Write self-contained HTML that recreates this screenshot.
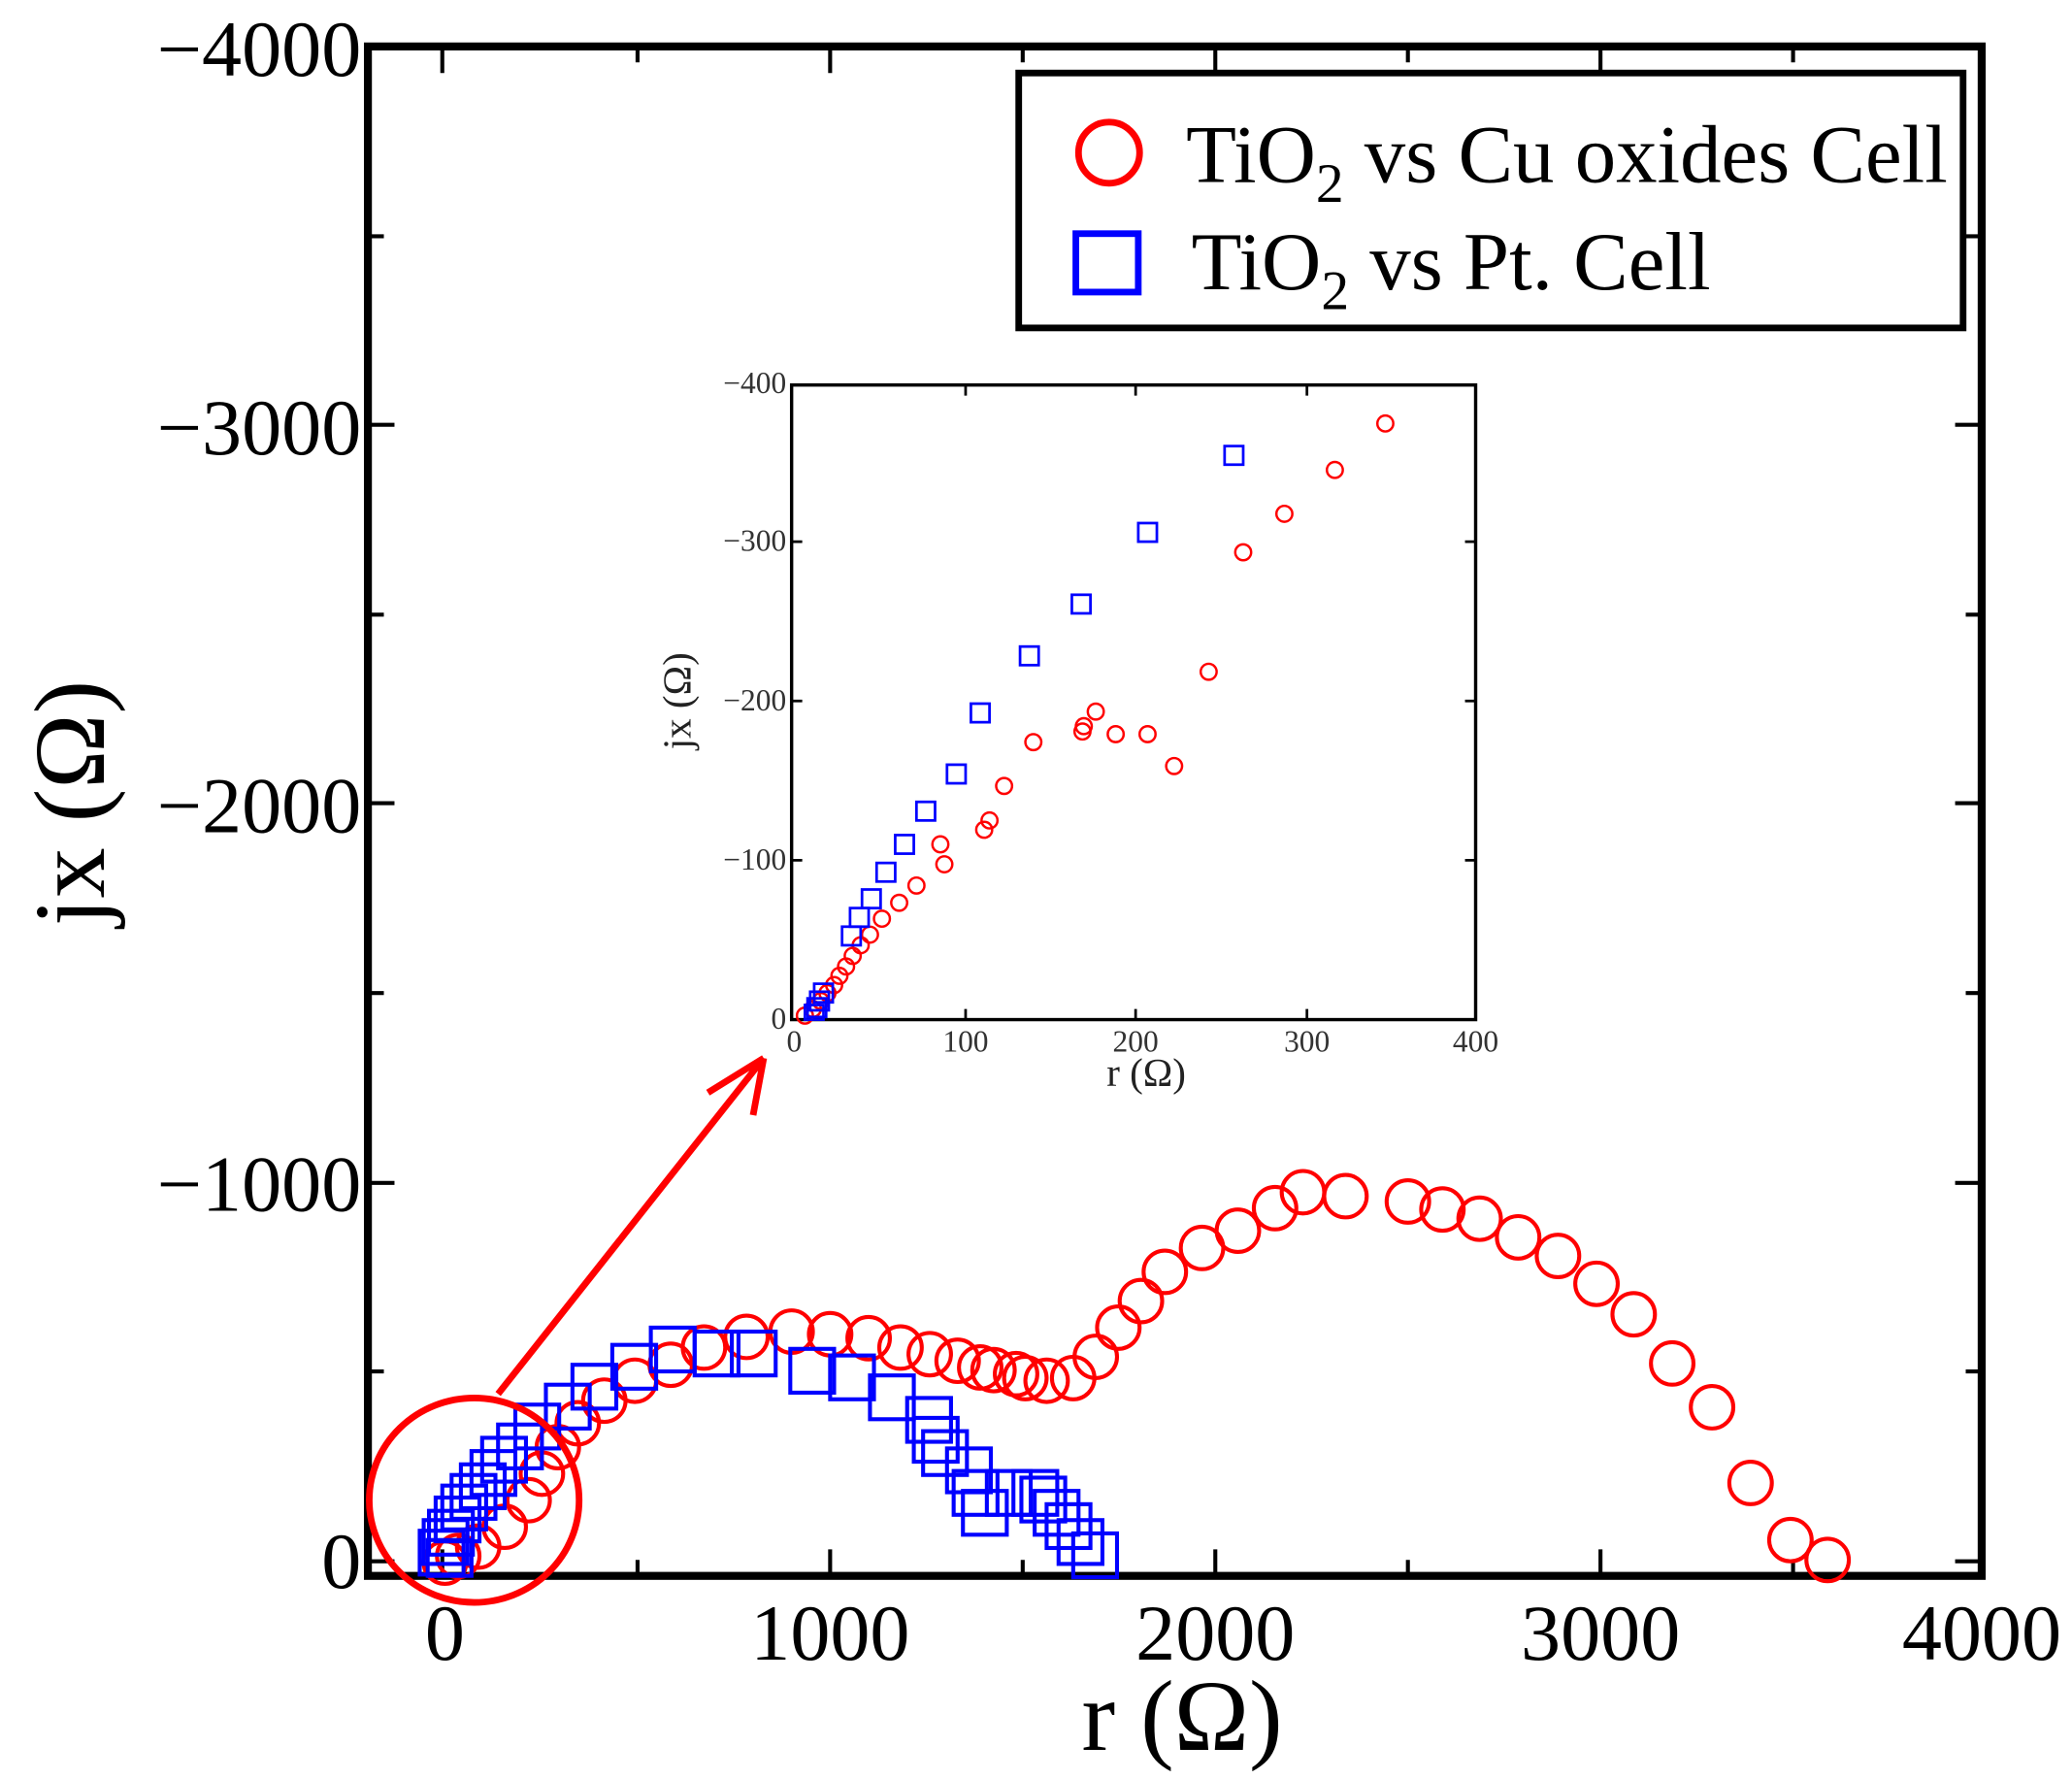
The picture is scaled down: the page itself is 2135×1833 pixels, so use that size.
<!DOCTYPE html>
<html><head><meta charset="utf-8"><style>
html,body{margin:0;padding:0;background:#fff;}
svg{display:block;}
text{font-family:"Liberation Serif",serif;}
</style></head><body>
<svg width="2135" height="1833" viewBox="0 0 1560 1340" preserveAspectRatio="none" xmlns="http://www.w3.org/2000/svg">
<rect width="1560" height="1340" fill="#fff"/>
<rect x="277" y="35" width="1215" height="1152" fill="none" stroke="#000" stroke-width="6"/>
<g stroke="#000" stroke-width="3">
<path d="M333,1187v-20M625,1187v-20M915,1187v-20M1205,1187v-20M480,1187v-12M770,1187v-12M1060,1187v-12M1350,1187v-12"/>
<path d="M333,35v20M625,35v20M915,35v20M1205,35v20M480,35v12M770,35v12M1060,35v12M1350,35v12"/>
<path d="M277,1176h20M277,891h20M277,605h20M277,320h20M277,1033h12M277,748h12M277,463h12M277,178h12"/>
<path d="M1492,1176h-20M1492,891h-20M1492,605h-20M1492,320h-20M1492,1033h-12M1492,748h-12M1492,463h-12M1492,178h-12"/>
</g>
<g font-size="60" fill="#000">
<text x="272" y="57" text-anchor="end">−4000</text>
<text x="272" y="342" text-anchor="end">−3000</text>
<text x="272" y="627" text-anchor="end">−2000</text>
<text x="272" y="912" text-anchor="end">−1000</text>
<text x="272" y="1196" text-anchor="end">0</text>
<text x="335" y="1250" text-anchor="middle">0</text>
<text x="625" y="1250" text-anchor="middle">1000</text>
<text x="915" y="1250" text-anchor="middle">2000</text>
<text x="1205" y="1250" text-anchor="middle">3000</text>
<text x="1492" y="1250" text-anchor="middle">4000</text>
</g>
<text x="890" y="1318" font-size="76" text-anchor="middle">r (Ω)</text>
<text transform="translate(78,605) rotate(-90)" font-size="76" text-anchor="middle">jx (Ω)</text>
<rect x="767" y="55" width="711" height="192" fill="#fff" stroke="#000" stroke-width="5"/>
<circle cx="835" cy="115" r="23" fill="none" stroke="#f00" stroke-width="5"/>
<rect x="810" y="176" width="47" height="44" fill="none" stroke="#00f" stroke-width="5"/>
<text x="893" y="137" font-size="62">TiO<tspan font-size="42" dy="15">2</tspan><tspan dy="-15"> vs Cu oxides Cell</tspan></text>
<text x="897" y="218" font-size="62">TiO<tspan font-size="42" dy="15">2</tspan><tspan dy="-15"> vs Pt. Cell</tspan></text>
<g fill="none" stroke="#f00" stroke-width="3">
<circle cx="1376" cy="1175" r="16"/><circle cx="1348" cy="1160" r="16"/><circle cx="1318" cy="1117" r="16"/><circle cx="1289" cy="1060" r="16"/><circle cx="1259" cy="1027" r="16"/><circle cx="1230" cy="990" r="16"/><circle cx="1202" cy="967" r="16"/><circle cx="1173" cy="946" r="16"/><circle cx="1143" cy="932" r="16"/><circle cx="1114" cy="918" r="16"/><circle cx="1086" cy="911" r="16"/><circle cx="1060" cy="905" r="16"/><circle cx="1013" cy="901" r="16"/><circle cx="981" cy="898" r="16"/><circle cx="960" cy="910" r="16"/><circle cx="932" cy="927" r="16"/><circle cx="905" cy="940" r="16"/><circle cx="877" cy="958" r="16"/><circle cx="859" cy="980" r="16"/><circle cx="842" cy="1000" r="16"/><circle cx="825" cy="1022" r="16"/><circle cx="808" cy="1038" r="16"/><circle cx="788" cy="1040" r="16"/><circle cx="772" cy="1038" r="16"/><circle cx="765" cy="1035" r="16"/><circle cx="748" cy="1032" r="16"/><circle cx="738" cy="1030" r="16"/><circle cx="721" cy="1025" r="16"/><circle cx="700" cy="1020" r="16"/><circle cx="678" cy="1015" r="16"/><circle cx="654" cy="1008" r="16"/><circle cx="625" cy="1005" r="16"/><circle cx="596" cy="1003" r="16"/><circle cx="562" cy="1007" r="16"/><circle cx="530" cy="1015" r="16"/><circle cx="505" cy="1028" r="16"/><circle cx="478" cy="1040" r="16"/><circle cx="455" cy="1055" r="16"/><circle cx="435" cy="1072" r="16"/><circle cx="420" cy="1090" r="16"/><circle cx="408" cy="1110" r="16"/><circle cx="398" cy="1130" r="16"/><circle cx="380" cy="1150" r="16"/><circle cx="360" cy="1165" r="16"/><circle cx="345" cy="1172" r="16"/><circle cx="335" cy="1177" r="16"/>
</g>
<g fill="none" stroke="#00f" stroke-width="3">
<rect x="808" y="1155" width="33" height="33"/><rect x="797" y="1145" width="33" height="33"/><rect x="788" y="1133" width="33" height="33"/><rect x="779" y="1123" width="33" height="33"/><rect x="769" y="1113" width="33" height="33"/><rect x="763" y="1108" width="33" height="33"/><rect x="743" y="1108" width="33" height="33"/><rect x="725" y="1123" width="33" height="33"/><rect x="718" y="1108" width="33" height="33"/><rect x="713" y="1091" width="33" height="33"/><rect x="695" y="1078" width="33" height="33"/><rect x="688" y="1068" width="33" height="33"/><rect x="683" y="1053" width="33" height="33"/><rect x="655" y="1036" width="33" height="33"/><rect x="625" y="1021" width="33" height="33"/><rect x="595" y="1016" width="33" height="33"/><rect x="551" y="1003" width="33" height="33"/><rect x="523" y="1003" width="33" height="33"/><rect x="490" y="1000" width="33" height="33"/><rect x="461" y="1013" width="33" height="33"/><rect x="431" y="1028" width="33" height="33"/><rect x="411" y="1043" width="33" height="33"/><rect x="388" y="1058" width="33" height="33"/><rect x="375" y="1073" width="33" height="33"/><rect x="363" y="1083" width="33" height="33"/><rect x="355" y="1093" width="33" height="33"/><rect x="347" y="1103" width="33" height="33"/><rect x="340" y="1111" width="33" height="33"/><rect x="333" y="1119" width="33" height="33"/><rect x="328" y="1128" width="33" height="33"/><rect x="323" y="1138" width="33" height="33"/><rect x="319" y="1145" width="33" height="33"/><rect x="316" y="1153" width="33" height="33"/><rect x="322" y="1160" width="33" height="27"/>
</g>
<ellipse cx="357" cy="1130" rx="79" ry="77" fill="none" stroke="#f00" stroke-width="5"/>
<path d="M375,1050L575,797M575,797L533,823M575,797L567,840" fill="none" stroke="#f00" stroke-width="5"/>
<rect x="596" y="290" width="515" height="478" fill="#fff" stroke="#000" stroke-width="2.5"/>
<g stroke="#000" stroke-width="2">
<path d="M727,768v-8M855,768v-8M984,768v-8M727,290v8M855,290v8M984,290v8"/>
<path d="M596,648h8M596,528h8M596,408h8M1111,648h-8M1111,528h-8M1111,408h-8"/>
</g>
<g font-size="23" fill="#333">
<text x="592" y="296" text-anchor="end">−400</text>
<text x="592" y="415" text-anchor="end">−300</text>
<text x="592" y="535" text-anchor="end">−200</text>
<text x="592" y="655" text-anchor="end">−100</text>
<text x="592" y="775" text-anchor="end">0</text>
<text x="598" y="792" text-anchor="middle">0</text>
<text x="727" y="792" text-anchor="middle">100</text>
<text x="855" y="792" text-anchor="middle">200</text>
<text x="984" y="792" text-anchor="middle">300</text>
<text x="1111" y="792" text-anchor="middle">400</text>
</g>
<text x="863" y="818" font-size="30" text-anchor="middle" fill="#222">r (Ω)</text>
<text transform="translate(520,528) rotate(-90)" font-size="30" text-anchor="middle" fill="#222">jx (Ω)</text>
<g fill="none" stroke="#f00" stroke-width="1.8">
<circle cx="1043" cy="319" r="6"/><circle cx="1005" cy="354" r="6"/><circle cx="967" cy="387" r="6"/><circle cx="936" cy="416" r="6"/><circle cx="910" cy="506" r="6"/><circle cx="825" cy="536" r="6"/><circle cx="815" cy="551" r="6"/><circle cx="816" cy="547" r="6"/><circle cx="778" cy="559" r="6"/><circle cx="840" cy="553" r="6"/><circle cx="864" cy="553" r="6"/><circle cx="884" cy="577" r="6"/><circle cx="756" cy="592" r="6"/><circle cx="745" cy="618" r="6"/><circle cx="741" cy="625" r="6"/><circle cx="708" cy="636" r="6"/><circle cx="711" cy="651" r="6"/><circle cx="690" cy="667" r="6"/><circle cx="677" cy="680" r="6"/><circle cx="664" cy="692" r="6"/><circle cx="655" cy="704" r="6"/><circle cx="648" cy="712" r="6"/><circle cx="642" cy="720" r="6"/><circle cx="637" cy="728" r="6"/><circle cx="632" cy="735" r="6"/><circle cx="628" cy="742" r="6"/><circle cx="623" cy="748" r="6"/><circle cx="618" cy="754" r="6"/><circle cx="612" cy="760" r="6"/><circle cx="606" cy="765" r="6"/>
</g>
<g fill="none" stroke="#00f" stroke-width="2">
<rect x="922" y="336" width="14" height="14"/><rect x="857" y="394" width="14" height="14"/><rect x="807" y="448" width="14" height="14"/><rect x="768" y="487" width="14" height="14"/><rect x="731" y="530" width="14" height="14"/><rect x="713" y="576" width="14" height="14"/><rect x="690" y="604" width="14" height="14"/><rect x="674" y="629" width="14" height="14"/><rect x="660" y="650" width="14" height="14"/><rect x="649" y="670" width="14" height="14"/><rect x="640" y="684" width="14" height="14"/><rect x="634" y="698" width="14" height="14"/><rect x="613" y="741" width="14" height="14"/><rect x="610" y="747" width="14" height="14"/><rect x="608" y="752" width="14" height="14"/><rect x="606" y="757" width="14" height="11"/>
</g>
</svg>
</body></html>
